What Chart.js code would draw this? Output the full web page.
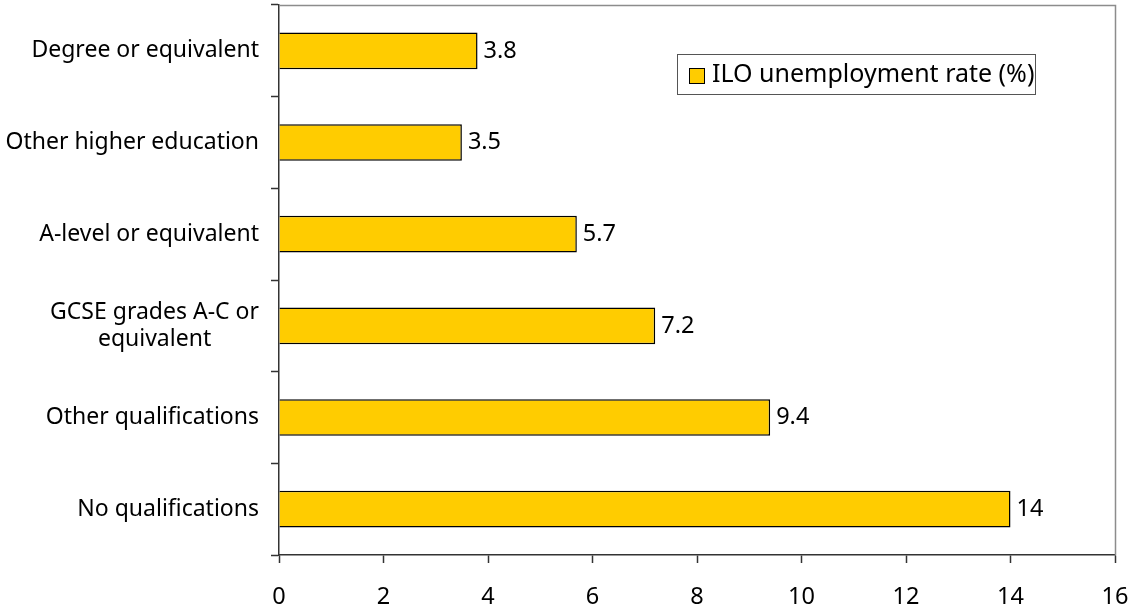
<!DOCTYPE html>
<html>
<head>
<meta charset="utf-8">
<title>ILO unemployment rate by qualification</title>
<script src="https://cdn.jsdelivr.net/npm/chart.js@4/dist/chart.umd.min.js"></script>
<style>
    html, body { margin: 0; padding: 0; background: #fff; }
    #wrap { width: 1129px; height: 606px; }
</style>
</head>
<body>
<div id="wrap"><canvas id="chart" width="1129" height="606"></canvas></div>
<script>
const categories = [
    'Degree or equivalent',
    'Other higher education',
    'A-level or equivalent',
    ['GCSE grades A-C or', 'equivalent'],
    'Other qualifications',
    'No qualifications'
];
const rates = [3.8, 3.5, 5.7, 7.2, 9.4, 14];
const valueLabels = ['3.8', '3.5', '5.7', '7.2', '9.4', '14'];
const seriesName = 'ILO unemployment rate (%)';

const FONT_FAMILY = '"Noto Sans", sans-serif';
const FONT_SIZE = 23.5;
const FONT = FONT_SIZE + 'px ' + FONT_FAMILY;
const BAR_FILL = '#ffcc00';

// category names, centred line by line, right edge against the axis
const categoryLabels = {
    id: 'categoryLabels',
    afterDraw(chart) {
        const ctx = chart.ctx;
        const y = chart.scales.y;
        const right = y.right - 20;
        ctx.save();
        ctx.font = '23px ' + FONT_FAMILY;
        ctx.fillStyle = '#000';
        ctx.textBaseline = 'middle';
        ctx.textAlign = 'center';
        categories.forEach((cat, i) => {
            const lines = Array.isArray(cat) ? cat : [cat];
            const w = Math.max(...lines.map(l => ctx.measureText(l).width));
            const cx = right - w / 2;
            const lh = 27;
            const yc = y.getPixelForValue(i);
            lines.forEach((l, j) => {
                ctx.fillText(l, cx, yc + (j - (lines.length - 1) / 2) * lh);
            });
        });
        ctx.restore();
    }
};

// value next to the end of each bar
const barValues = {
    id: 'barValues',
    afterDatasetsDraw(chart) {
        const ctx = chart.ctx;
        const meta = chart.getDatasetMeta(0);
        ctx.save();
        ctx.font = FONT;
        ctx.fillStyle = '#000';
        ctx.textBaseline = 'middle';
        ctx.textAlign = 'left';
        meta.data.forEach((bar, i) => {
            ctx.fillText(valueLabels[i], bar.x + 6, bar.y);
        });
        ctx.restore();
    }
};

// grey frame on top/right plus the boxed legend inside the plot
const frameAndLegend = {
    id: 'frameAndLegend',
    afterDraw(chart) {
        const ctx = chart.ctx;
        const a = chart.chartArea;
        ctx.save();
        ctx.strokeStyle = '#8c8c8c';
        ctx.lineWidth = 1.5;
        ctx.beginPath();
        ctx.moveTo(a.left, a.top + 0.5);
        ctx.lineTo(a.right + 0.5, a.top + 0.5);
        ctx.lineTo(a.right + 0.5, a.bottom);
        ctx.stroke();

        const lx = 677, ly = 54, lw = 358, lh = 40;
        ctx.fillStyle = '#fff';
        ctx.fillRect(lx, ly, lw, lh);
        ctx.strokeStyle = '#555';
        ctx.lineWidth = 1;
        ctx.strokeRect(lx + 0.5, ly + 0.5, lw, lh);
        ctx.fillStyle = BAR_FILL;
        ctx.fillRect(689, 68, 15, 15);
        ctx.strokeStyle = '#000';
        ctx.strokeRect(689.5, 68.5, 15, 15);
        ctx.font = (FONT_SIZE + 1.5) + 'px ' + FONT_FAMILY;
        ctx.fillStyle = '#000';
        ctx.textBaseline = 'middle';
        ctx.textAlign = 'left';
        ctx.fillText(seriesName, 712, ly + lh / 2 + 1);
        ctx.restore();
    }
};

new Chart(document.getElementById('chart'), {
    type: 'bar',
    data: {
        labels: categories,
        datasets: [{
            label: seriesName,
            data: rates,
            backgroundColor: BAR_FILL,
            borderColor: '#000',
            borderWidth: 1.5,
            barPercentage: 0.8,
            categoryPercentage: 0.5
        }]
    },
    options: {
        indexAxis: 'y',
        responsive: false,
        animation: false,
        layout: { padding: { top: 5, right: 14, left: 0, bottom: 0 } },
        plugins: {
            legend: { display: false },
            tooltip: { enabled: false }
        },
        scales: {
            x: {
                min: 0,
                max: 16,
                ticks: {
                    stepSize: 2,
                    color: '#000',
                    font: { family: FONT_FAMILY, size: FONT_SIZE },
                    padding: 20
                },
                grid: {
                    drawOnChartArea: false,
                    color: '#333',
                    tickLength: 8,
                    tickWidth: 1.5
                },
                border: { color: '#333', width: 1.5 },
                afterFit(s) {
                    s.height = 51;
                    s.paddingLeft = 0;
                    s.paddingRight = 0;
                }
            },
            y: {
                ticks: { display: false },
                grid: {
                    offset: true,
                    drawOnChartArea: false,
                    color: '#333',
                    tickLength: 8,
                    tickWidth: 1.5
                },
                border: { color: '#333', width: 1.5 },
                afterFit(s) { s.width = 279; }
            }
        }
    },
    plugins: [categoryLabels, barValues, frameAndLegend]
});
</script>
</body>
</html>
